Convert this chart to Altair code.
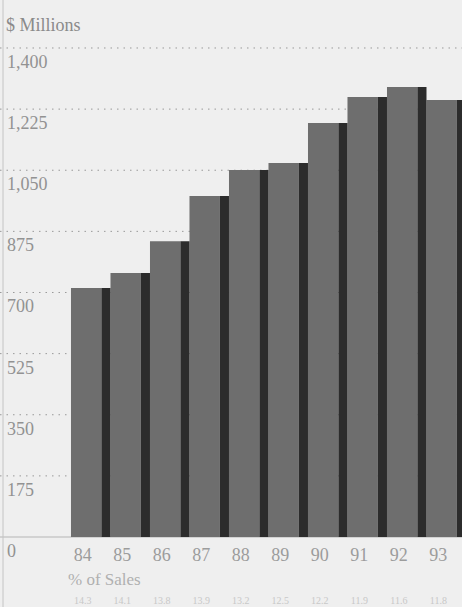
import altair as alt
import pandas as pd

years = ["84", "85", "86", "87", "88", "89", "90", "91", "92", "93"]
values = [713, 756, 847, 976, 1051, 1071, 1185, 1260, 1288, 1251]
pct_labels = ["14.3", "14.1", "13.8", "13.9", "13.2", "12.5", "12.2", "11.9", "11.6", "11.8"]
tick_values = [0, 175, 350, 525, 700, 875, 1050, 1225, 1400]
tick_labels = ["0", "175", "350", "525", "700", "875", "1,050", "1,225", "1,400"]

W, H = 462, 607
FONT = "Liberation Serif"

bars = pd.DataFrame({"i": list(range(len(years))), "year": years, "value": values, "pct": pct_labels})
ticks = pd.DataFrame({"v": tick_values, "label": tick_labels})

xs = alt.Scale(domain=[-1.797, 9.899], nice=False, zero=False)
ys = alt.Scale(domain=[-200.4, 1537.4], nice=False, zero=False)

base = alt.Chart(bars)
tbase = alt.Chart(ticks)

grid = tbase.transform_filter("datum.v > 0").mark_rule(
    color="#999999", strokeDash=[1.5, 5], strokeWidth=1
).encode(
    y=alt.Y("v:Q", scale=ys, axis=None),
    x=alt.value(0), x2=alt.value(W),
)

baseline = tbase.transform_filter("datum.v == 0").mark_rule(
    color="#b5b5b5", strokeWidth=1
).encode(
    y=alt.Y("v:Q", scale=ys, axis=None),
    x=alt.value(0), x2=alt.value(W),
)

leftline = tbase.transform_filter("datum.v == 0").mark_rule(
    color="#c4c4c4", strokeWidth=1
).encode(x=alt.value(3), y=alt.value(0), y2=alt.value(H))

front = base.transform_calculate(x1="datum.i", x2="datum.i + 0.77", zero="0").mark_rect(
    color="#6e6e6e"
).encode(
    x=alt.X("x1:Q", scale=xs, axis=None), x2="x2:Q",
    y=alt.Y("value:Q", scale=ys, axis=None), y2="zero:Q",
)

side = base.transform_calculate(x1="datum.i + 0.77", x2="datum.i + 1", zero="0").mark_rect(
    color="#2c2c2c"
).encode(
    x=alt.X("x1:Q", scale=xs, axis=None), x2="x2:Q",
    y=alt.Y("value:Q", scale=ys, axis=None), y2="zero:Q",
)

year_text = base.transform_calculate(xc="datum.i + 0.3").mark_text(
    font=FONT, fontSize=18, color="#9c9c9c", align="center", baseline="middle"
).encode(x=alt.X("xc:Q", scale=xs, axis=None), y=alt.value(556), text="year:N")

pct_text = base.transform_calculate(xc="datum.i + 0.3").mark_text(
    font=FONT, fontSize=10, color="#c8c8c8", align="center", baseline="middle"
).encode(x=alt.X("xc:Q", scale=xs, axis=None), y=alt.value(601), text="pct:N")

tick_text = tbase.mark_text(
    font=FONT, fontSize=18, color="#929292", align="left", baseline="middle", dy=15
).encode(x=alt.value(7), y=alt.Y("v:Q", scale=ys, axis=None), text="label:N")

title = tbase.transform_filter("datum.v == 0").mark_text(
    font=FONT, fontSize=18, color="#8a8a8a", align="left", baseline="middle", text="$ Millions"
).encode(x=alt.value(6), y=alt.value(26))

sales = tbase.transform_filter("datum.v == 0").mark_text(
    font=FONT, fontSize=17, color="#b0b0b0", align="left", baseline="middle", text="% of Sales"
).encode(x=alt.value(68), y=alt.value(580))

chart = alt.layer(
    grid, baseline, leftline, front, side, year_text, pct_text, tick_text, title, sales
).properties(
    width=W, height=H, autosize=alt.AutoSizeParams(type="none"), padding=0,
    background="#efefef",
).configure_view(stroke=None)

chart.save("out.html", embed_options={"renderer": "svg", "actions": False})
